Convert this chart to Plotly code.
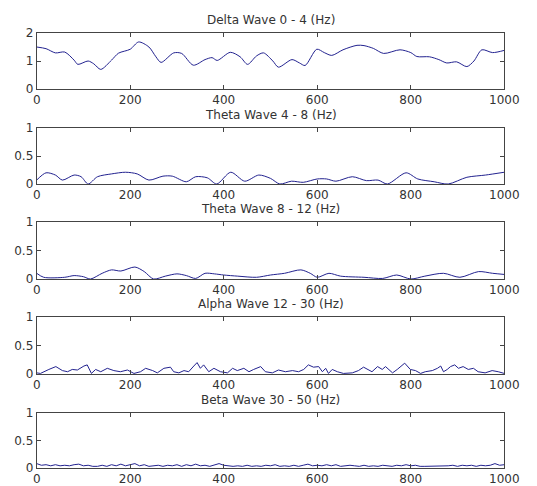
import plotly.graph_objects as go

# ---------------- data ----------------
titles = ["Delta Wave 0 - 4 (Hz)", "Theta Wave 4 - 8 (Hz)", "Theta Wave 8 - 12 (Hz)",
          "Alpha Wave 12 - 30 (Hz)", "Beta Wave 30 - 50 (Hz)"]

delta_x = [0, 20, 40, 60, 80, 88, 110, 122, 137, 160, 175, 200, 218, 240, 255, 266, 293, 310,
           335, 360, 375, 386, 414, 435, 451, 470, 485, 505, 517, 546, 562, 574, 599, 615, 631,
           655, 685, 700, 720, 742, 777, 800, 813, 840, 860, 877, 898, 920, 935, 952, 975, 1000]
delta_y = [1.50, 1.44, 1.29, 1.32, 1.03, 0.88, 1.00, 0.90, 0.70, 1.03, 1.28, 1.42, 1.68, 1.50,
           1.15, 0.95, 1.29, 1.27, 0.85, 1.05, 1.12, 1.02, 1.31, 1.15, 0.88, 1.18, 1.29, 1.00,
           0.78, 1.05, 0.93, 0.84, 1.42, 1.30, 1.20, 1.40, 1.56, 1.55, 1.45, 1.27, 1.40, 1.30,
           1.16, 1.15, 1.05, 0.93, 0.97, 0.80, 1.00, 1.40, 1.30, 1.38]

theta1_x = [0, 20, 40, 55, 80, 95, 110, 130, 160, 190, 215, 240, 270, 290, 320, 340, 365, 385,
            415, 445, 475, 500, 520, 545, 570, 600, 620, 640, 675, 705, 730, 750, 790, 815, 850,
            880, 920, 960, 1000]
theta1_y = [0.07, 0.20, 0.16, 0.07, 0.16, 0.13, 0.00, 0.13, 0.18, 0.21, 0.18, 0.07, 0.14, 0.14,
            0.04, 0.13, 0.11, 0.00, 0.21, 0.05, 0.16, 0.10, 0.00, 0.05, 0.03, 0.09, 0.09, 0.05,
            0.13, 0.06, 0.07, 0.00, 0.20, 0.09, 0.04, 0.00, 0.12, 0.16, 0.21]

theta2_x = [0, 15, 60, 80, 100, 115, 140, 160, 180, 210, 230, 250, 275, 300, 320, 340, 360, 380,
            400, 430, 470, 500, 530, 565, 585, 600, 625, 650, 700, 740, 770, 800, 830, 870, 905,
            945, 975, 1000]
theta2_y = [0.10, 0.03, 0.03, 0.06, 0.04, 0.00, 0.10, 0.16, 0.14, 0.21, 0.13, 0.00, 0.05, 0.09,
            0.06, 0.01, 0.10, 0.09, 0.07, 0.05, 0.03, 0.07, 0.10, 0.16, 0.10, 0.03, 0.10, 0.05,
            0.03, 0.01, 0.07, 0.00, 0.05, 0.10, 0.03, 0.13, 0.10, 0.08]

alpha_x = [0, 8, 26, 41, 55, 66, 76, 87, 101, 108, 117, 126, 137, 151, 165, 179, 194, 208, 222,
           233, 248, 258, 272, 286, 293, 304, 315, 325, 336, 343, 350, 357, 368, 379, 393, 408,
           419, 429, 443, 454, 464, 479, 489, 504, 517, 532, 547, 560, 571, 581, 592, 603, 611,
           618, 624, 632, 643, 656, 675, 688, 699, 709, 717, 729, 739, 746, 761, 771, 787, 799,
           810, 821, 831, 846, 857, 864, 870, 878, 885, 894, 902, 912, 923, 934, 944, 959, 974,
           987, 1000]
alpha_y = [0.02, 0.01, 0.08, 0.13, 0.06, 0.04, 0.08, 0.07, 0.14, 0.16, 0.01, 0.08, 0.04, 0.10,
           0.06, 0.04, 0.07, 0.01, 0.04, 0.10, 0.06, 0.02, 0.10, 0.12, 0.04, 0.02, 0.06, 0.04,
           0.14, 0.20, 0.10, 0.16, 0.04, 0.10, 0.04, 0.02, 0.10, 0.06, 0.10, 0.04, 0.08, 0.13,
           0.04, 0.02, 0.07, 0.04, 0.06, 0.04, 0.08, 0.16, 0.12, 0.13, 0.04, 0.10, 0.01, 0.08,
           0.04, 0.01, 0.02, 0.06, 0.12, 0.07, 0.04, 0.13, 0.08, 0.13, 0.02, 0.08, 0.19, 0.08,
           0.06, 0.01, 0.04, 0.06, 0.10, 0.14, 0.04, 0.08, 0.13, 0.16, 0.10, 0.13, 0.08, 0.10,
           0.04, 0.02, 0.06, 0.04, 0.01]

beta_x = list(range(0, 1001, 10))
beta_y = [0.08, 0.05, 0.06, 0.04, 0.06, 0.04, 0.05, 0.04, 0.06, 0.07, 0.04, 0.05, 0.03, 0.03,
          0.05, 0.03, 0.06, 0.04, 0.07, 0.04, 0.06, 0.08, 0.04, 0.06, 0.03, 0.04, 0.05, 0.03,
          0.05, 0.04, 0.06, 0.03, 0.06, 0.04, 0.07, 0.04, 0.05, 0.03, 0.05, 0.08, 0.05, 0.04,
          0.03, 0.04, 0.03, 0.05, 0.03, 0.04, 0.03, 0.05, 0.04, 0.06, 0.03, 0.04, 0.03, 0.05,
          0.03, 0.05, 0.07, 0.04, 0.05, 0.04, 0.06, 0.04, 0.06, 0.03, 0.04, 0.05, 0.04, 0.03,
          0.05, 0.03, 0.04, 0.03, 0.05, 0.04, 0.03, 0.05, 0.04, 0.06, 0.04, 0.05, 0.03, 0.03,
          0.03, 0.03, 0.03, 0.03, 0.04, 0.05, 0.03, 0.05, 0.04, 0.05, 0.03, 0.05, 0.04, 0.05,
          0.08, 0.05, 0.06]

x_ticks = [0, 200, 400, 600, 800, 1000]
y_ticks_delta = [0, 1, 2]
y_ticks_other = [0, 0.5, 1]

series = [(delta_x, delta_y, "spline"), (theta1_x, theta1_y, "spline"),
          (theta2_x, theta2_y, "spline"), (alpha_x, alpha_y, "linear"),
          (beta_x, beta_y, "linear")]
y_ranges = [[0, 2], [0, 1], [0, 1], [0, 1], [0, 1]]
y_tickvals = [y_ticks_delta, y_ticks_other, y_ticks_other, y_ticks_other, y_ticks_other]

# ---------------- layout ----------------
# the page body has an 8 px margin, so the figure is placed at (8, 8)
OFF = 8
W, H = 537 - OFF, 486 - OFF
x_dom = [(36.7 - OFF) / W, (504.3 - OFF) / W]
panels_px = [(33, 89), (128, 184), (222, 279), (317, 374), (413, 468)]
title_px = [20, 115, 209, 304, 400]

fig = go.Figure()
font = dict(family="DejaVu Sans, Liberation Sans, Arial, sans-serif", size=12, color="#333333")
line_col = "#22228f"

for i, ((xs, ys, shape), yr, ytv) in enumerate(zip(series, y_ranges, y_tickvals)):
    n = "" if i == 0 else str(i + 1)
    fig.add_trace(go.Scatter(x=xs, y=ys, mode="lines",
                             line=dict(color=line_col, width=1, shape=shape, smoothing=0.8),
                             xaxis="x" + n, yaxis="y" + n, showlegend=False))
    top, bot = panels_px[i]
    ax_common = dict(showline=True, linecolor="#444444", linewidth=1, mirror="ticks",
                     ticks="inside", ticklen=4, tickcolor="#444444", showgrid=False,
                     zeroline=False, tickfont=font, automargin=False)
    fig.layout["xaxis" + n] = dict(domain=x_dom, anchor="y" + n, range=[0, 1000],
                                   tickvals=x_ticks, ticktext=[str(v) for v in x_ticks],
                                   **ax_common)
    fig.layout["yaxis" + n] = dict(domain=[1 - (bot - OFF) / H, 1 - (top - OFF) / H],
                                   anchor="x" + n, range=yr, tickvals=ytv,
                                   ticktext=[str(v) for v in ytv], **ax_common)
    fig.add_annotation(text=titles[i], x=(270.5 - OFF) / W, y=1 - (title_px[i] - OFF) / H,
                       xref="paper", yref="paper", showarrow=False, font=font,
                       xanchor="center", yanchor="middle")

fig.update_layout(width=W, height=H, margin=dict(l=0, r=0, t=0, b=0, pad=0),
                  paper_bgcolor="white", plot_bgcolor="white")

fig.write_html("out.html")
